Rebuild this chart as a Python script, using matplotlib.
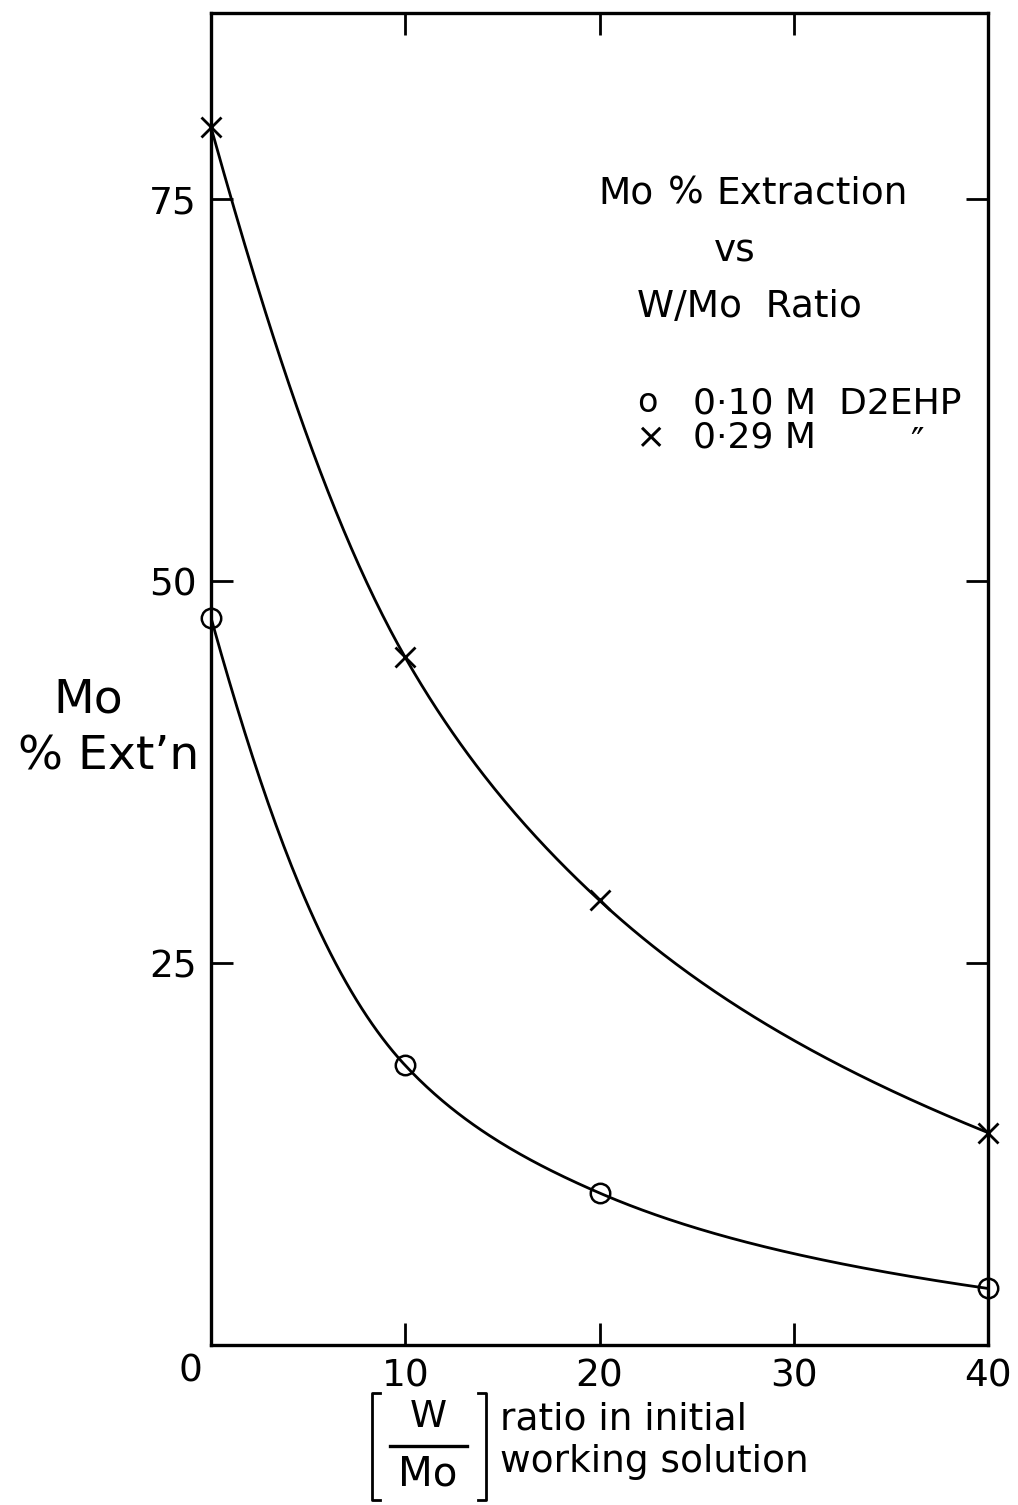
import numpy as np
import matplotlib
matplotlib.use("Agg")
import matplotlib.pyplot as plt
from matplotlib.lines import Line2D

# W/Mo ratio in the initial working solution
ratio = [0, 10, 20, 40]
# Mo % extraction for the two D2EHP concentrations
ext_010M = [47.6, 18.3, 9.95, 3.7]
ext_029M = [79.7, 45.0, 29.1, 13.9]

xticks = [0, 10, 20, 30, 40]
xticklabels = ["", "10", "20", "30", "40"]
yticks = [25, 50, 75]

W, H = 1018, 1505


def fx(px):
    return px / W


def fy(py):
    return 1 - py / H


def pchip(x, y, xs):
    # monotone cubic (Fritsch-Carlson) through the points
    x = np.asarray(x, float)
    y = np.asarray(y, float)
    h = np.diff(x)
    d = np.diff(y) / h
    m = np.zeros_like(y)
    m[0], m[-1] = d[0], d[-1]
    for k in range(1, len(x) - 1):
        if d[k - 1] * d[k] > 0:
            w1 = 2 * h[k] + h[k - 1]
            w2 = h[k] + 2 * h[k - 1]
            m[k] = (w1 + w2) / (w1 / d[k - 1] + w2 / d[k])
    out = np.empty_like(xs)
    for i, xv in enumerate(xs):
        k = min(np.searchsorted(x, xv, side="right") - 1, len(x) - 2)
        t = (xv - x[k]) / h[k]
        h00 = 2 * t**3 - 3 * t**2 + 1
        h10 = t**3 - 2 * t**2 + t
        h01 = -2 * t**3 + 3 * t**2
        h11 = t**3 - t**2
        out[i] = h00 * y[k] + h10 * h[k] * m[k] + h01 * y[k + 1] + h11 * h[k] * m[k + 1]
    return out


def smooth(x, y):
    xs = np.linspace(x[0], x[-1], 300)
    return xs, np.exp(pchip(x, np.log(y), xs))


plt.rcParams["font.family"] = ["DejaVu Sans"]

fig = plt.figure(figsize=(W / 100, H / 100), dpi=100)
ax = fig.add_axes([fx(211), fy(1345), fx(988) - fx(211), fy(12.7) - fy(1345)])

xs, ys = smooth(ratio, ext_029M)
ax.plot(xs, ys, color="black", lw=2.0)
ax.plot(ratio, ext_029M, ls="none", marker="x", ms=15, mew=2.0, color="black",
        clip_on=False)

xs, ys = smooth(ratio, ext_010M)
ax.plot(xs, ys, color="black", lw=2.0)
ax.plot(ratio, ext_010M, ls="none", marker="o", ms=14, mew=1.8,
        mfc="none", mec="black", clip_on=False)

ax.set_xlim(0, 40)
ax.set_ylim(0, 87.2)
ax.set_xticks(xticks)
ax.set_xticklabels(xticklabels)
ax.set_yticks(yticks)
ax.tick_params(direction="in", length=16, width=2, labelsize=27,
               top=True, right=True, pad=10)
for s in ax.spines.values():
    s.set_linewidth(2.4)

# origin label sits a little left of the corner
fig.text(fx(190), fy(1372), "0", fontsize=27, ha="center", va="center")

# y axis caption
fig.text(fx(88), fy(700), "Mo", fontsize=34, ha="center", va="center")
fig.text(fx(18), fy(757), "% Ext\u2019n", fontsize=34, ha="left", va="center")

# title block
fig.text(fx(598), fy(193), "Mo", fontsize=27, ha="left", va="center")
fig.text(fx(668), fy(193), "%", fontsize=27, ha="left", va="center")
fig.text(fx(716), fy(193), "Extraction", fontsize=27, ha="left", va="center")
fig.text(fx(735), fy(252), "vs", fontsize=27, ha="center", va="center")
fig.text(fx(637), fy(307), "W/Mo  Ratio", fontsize=27, ha="left", va="center")

# key
fig.text(fx(637), fy(403), "o", fontsize=24, ha="left", va="center")
fig.text(fx(693), fy(403), "0\u00b710 M  D2EHP", fontsize=26, ha="left", va="center")
fig.text(fx(635), fy(438), "\u00d7", fontsize=26, ha="left", va="center")
fig.text(fx(693), fy(438), "0\u00b729 M", fontsize=26, ha="left", va="center")
fig.text(fx(917), fy(426), "\u2033", fontsize=26, ha="center", va="top")

# x axis caption: [W/Mo] ratio in initial working solution
fig.text(fx(428), fy(1417), "W", fontsize=27, ha="center", va="center")
fig.text(fx(428), fy(1474), "Mo", fontsize=29, ha="center", va="center")
lw = 2.0
fig.add_artist(Line2D([fx(390), fx(467)], [fy(1446), fy(1446)],
                      transform=fig.transFigure, color="black", lw=2.4))
fig.add_artist(Line2D([fx(380), fx(372), fx(372), fx(380)],
                      [fy(1393), fy(1393), fy(1500), fy(1500)],
                      transform=fig.transFigure, color="black", lw=lw))
fig.add_artist(Line2D([fx(478), fx(486), fx(486), fx(478)],
                      [fy(1393), fy(1393), fy(1500), fy(1500)],
                      transform=fig.transFigure, color="black", lw=lw))
fig.text(fx(500), fy(1420), "ratio in initial", fontsize=27, ha="left", va="center")
fig.text(fx(500), fy(1462), "working solution", fontsize=27, ha="left", va="center")

fig.savefig("out.png", dpi=100)
